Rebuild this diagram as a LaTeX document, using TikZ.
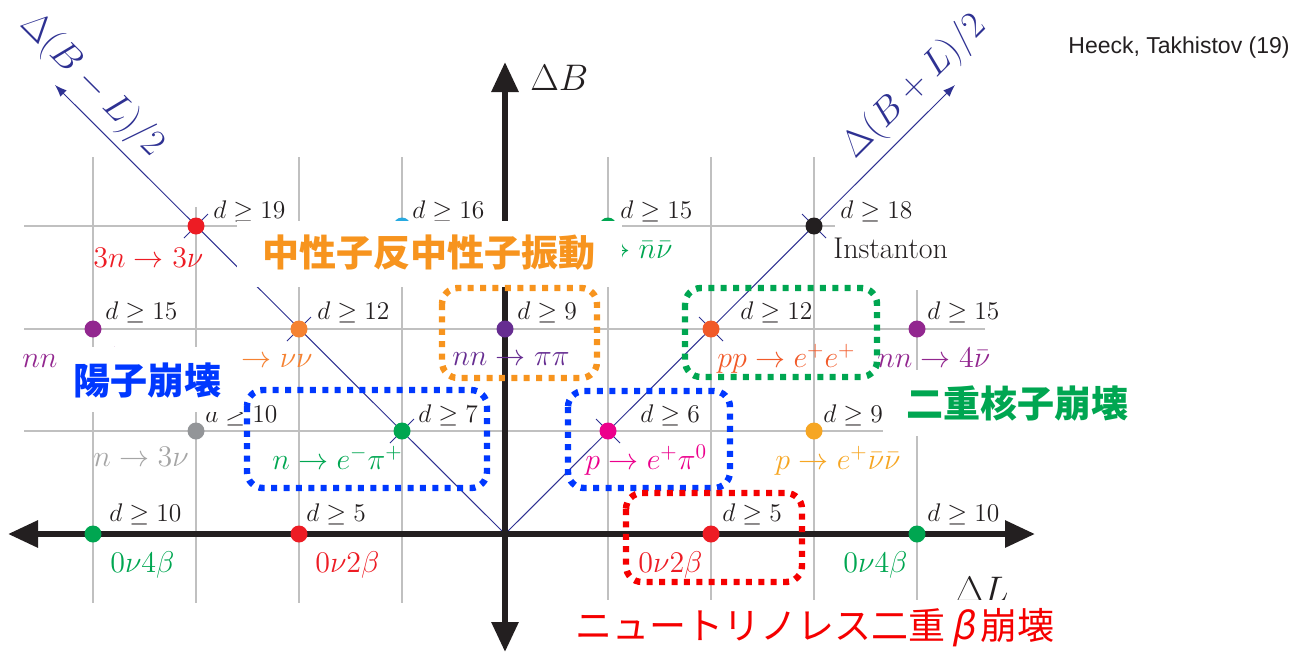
\RequirePackage{fix-cm}
\documentclass[tikz,border=0pt]{standalone}
\usepackage{fontspec}
\newfontfamily\jp{Noto Sans CJK JP}
\newfontfamily\jpsl{Noto Sans CJK JP}[FakeSlant=0.2]
\newfontfamily\heeckfont{Liberation Sans}
\usetikzlibrary{arrows.meta}
\definecolor{gridgray}{RGB}{192,192,192}
\definecolor{axisblack}{RGB}{35,31,32}
\definecolor{navy}{RGB}{46,49,146}
\definecolor{cgreen}{RGB}{0,166,81}
\definecolor{cred}{RGB}{237,28,36}
\definecolor{cgraydot}{RGB}{147,149,152}
\definecolor{cgraylab}{RGB}{165,165,165}
\definecolor{cmagenta}{RGB}{236,0,140}
\definecolor{cyellow}{RGB}{246,166,35}
\definecolor{cpurple}{RGB}{146,39,143}
\definecolor{cviolet}{RGB}{102,45,145}
\definecolor{corange}{RGB}{245,130,50}
\definecolor{corangered}{RGB}{241,90,41}
\definecolor{ccyan}{RGB}{39,170,225}
\definecolor{jorange}{RGB}{247,148,30}
\definecolor{jblue}{RGB}{0,56,255}
\definecolor{jgreen}{RGB}{0,166,81}
\definecolor{jred}{RGB}{245,0,0}
\newcommand\dsz{\fontsize{12.75}{15}\selectfont}
\newcommand\psz{\fontsize{15}{18}\selectfont}
\newcommand\bsz{\fontsize{18.5}{22}\selectfont}
\tikzset{
  gridline/.style={draw=gridgray, line width=0.75pt},
  diag/.style={draw=navy, line width=0.5pt},
  axisline/.style={draw=axisblack, line width=3pt,
    {Triangle[length=15pt,width=13pt]}-{Triangle[length=15pt,width=13pt]}},
  dot/.style={circle, inner sep=0pt, minimum size=8.5pt},
  dlab/.style={anchor=base west, inner sep=0pt, text=axisblack, font=\dsz},
  plab/.style={anchor=base west, inner sep=0pt, font=\psz},
  jplab/.style={inner sep=0pt, font=\jp\bfseries\fontsize{18.5}{22}\selectfont},
  hlbox/.style={line width=3.2pt, dash pattern=on 3pt off 3.2pt, rounded corners=8pt},
  tickmark/.style={draw=navy, line width=0.5pt},
}
\begin{document}
\begin{tikzpicture}[x=0.5pt,y=-0.5pt]
\useasboundingbox (0,0) rectangle (1300,653);
% grid
\foreach \gx/\gy in {93/157,196/207,299/157,402/157,608/157,711/157,814/157,917/290}
  \draw[gridline] (\gx,\gy) -- (\gx,603);
\draw[gridline] (24,226) -- (835,226);
\draw[gridline] (24,329) -- (985,329);
\draw[gridline] (24,431) -- (985,431);
% coordinates
\coordinate (O) at (505,534);
\coordinate (tipBL) at (55,85);
\coordinate (tipBP) at (955,85);
\coordinate (Lw) at (8,534);
\coordinate (Le) at (1035,534);
\coordinate (Bn) at (505,62);
\coordinate (Bs) at (505,652);
% diagonals
\draw[diag,-{Latex[length=6pt,width=4.5pt]}] (O) -- (tipBL);
\draw[diag,-{Latex[length=6pt,width=4.5pt]}] (O) -- (tipBP);
\foreach \gx/\gy in {402/431,299/329,196/226}
  \draw[tickmark] (\gx-12,\gy+12) -- (\gx+12,\gy-12);
\foreach \gx/\gy in {608/431,711/329,814/226}
  \draw[tickmark] (\gx-12,\gy-12) -- (\gx+12,\gy+12);
% axes
\draw[axisline] (Lw) -- (Le);
\draw[axisline] (Bs) -- (Bn);
% dots
\node[dot,fill=cgreen] (m40) at (93,534) {};
\node[dot,fill=cred] (m20) at (299,534) {};
\node[dot,fill=cred] (p20) at (711,534) {};
\node[dot,fill=cgreen] (p40) at (917,534) {};
\node[dot,fill=cgraydot] (m31) at (196,431) {};
\node[dot,fill=cgreen] (m11) at (402,431) {};
\node[dot,fill=cmagenta] (p11) at (608,431) {};
\node[dot,fill=cyellow] (p31) at (814,431) {};
\node[dot,fill=cpurple] (m42) at (93,329) {};
\node[dot,fill=corange] (m22) at (299,329) {};
\node[dot,fill=cviolet] (z02) at (505,329) {};
\node[dot,fill=corangered] (p22) at (711,329) {};
\node[dot,fill=cpurple] (p42) at (917,329) {};
\node[dot,fill=cred] (m33) at (196,226) {};
\node[dot,fill=ccyan] (m13) at (402,226) {};
\node[dot,fill=cgreen] (p13) at (608,226) {};
\node[dot,fill=axisblack] (p33) at (814,226) {};
% d labels
\node[dlab] (dm33) at (213,218) {$d\geq 19$};
\node[dlab] (dm13) at (412,218) {$d\geq 16$};
\node[dlab] (dp13) at (620,218) {$d\geq 15$};
\node[dlab] (dp33) at (840,218) {$d\geq 18$};
\node[dlab] (dm42) at (105,319) {$d\geq 15$};
\node[dlab] (dm22) at (317,319) {$d\geq 12$};
\node[dlab] (dz02) at (517,319) {$d\geq 9$};
\node[dlab] (dp22) at (740,319) {$d\geq 12$};
\node[dlab] (dp42) at (927,319) {$d\geq 15$};
\node[dlab] (dm31) at (205,422) {$d\geq 10$};
\node[dlab] (dm11) at (418,422) {$d\geq 7$};
\node[dlab] (dp11) at (640,422) {$d\geq 6$};
\node[dlab] (dp31) at (823,422) {$d\geq 9$};
\node[dlab] (dm40) at (109,521) {$d\geq 10$};
\node[dlab] (dm20) at (306,521) {$d\geq 5$};
\node[dlab] (dp20) at (722,521) {$d\geq 5$};
\node[dlab] (dp40) at (927,521) {$d\geq 10$};
% process labels
\node[plab,text=cgreen] (lm40) at (110,572) {$0\nu4\beta$};
\node[plab,text=cred] (lm20) at (315,572) {$0\nu2\beta$};
\node[plab,text=cred] (lp20) at (638,572) {$0\nu2\beta$};
\node[plab,text=cgreen] (lp40) at (843,572) {$0\nu4\beta$};
\node[plab,text=cgraylab] (lm31) at (93,466) {$n\to 3\nu$};
\node[plab,text=cgreen] (lm11) at (272,469) {$n\to e^-\pi^+$};
\node[plab,text=cmagenta] (lp11) at (585,469) {$p\to e^+\pi^0$};
\node[plab,text=cyellow] (lp31) at (775,469) {$p\to e^+\bar\nu\bar\nu$};
\node[plab,text=cpurple] (lm42) at (22,367) {$nn\to 4\nu$};
\node[plab,anchor=base east,text=corange] (lm22) at (313,367) {$nn\to\nu\nu$};
\node[plab,text=cviolet] (lz02) at (452,365) {$nn\to\pi\pi$};
\node[plab,text=corangered] (lp22) at (717,367) {$pp\to e^+e^+$};
\node[plab,text=cpurple] (lp42) at (877,367) {$nn\to 4\bar\nu$};
\node[plab,text=cred] (lm33) at (93,267) {$3n\to 3\nu$};
\node[plab,anchor=base east,text=cgreen] (lp13) at (673,258) {$\to\bar n\bar\nu$};
\node[plab,text=axisblack] (lp33) at (833,258) {Instanton};
% axis labels
\node[anchor=base west,inner sep=0pt,font=\bsz,text=axisblack] (lDB) at (530,90) {$\Delta B$};
\node[anchor=base west,inner sep=0pt,font=\bsz,text=axisblack] (lDL) at (955,602) {$\Delta L$};
\node[rotate=-45,inner sep=0pt,font=\bsz,text=navy] (lBmL) at (92,85) {$\Delta(B-L)/2$};
\node[rotate=45,inner sep=0pt,font=\bsz,text=navy] (lBpL) at (915,87) {$\Delta(B+L)/2$};
\node[anchor=base west,inner sep=0pt,font=\heeckfont\fontsize{11.5}{14}\selectfont,text=axisblack] (cite) at (1068,53) {Heeck, Takhistov (19)};
% Japanese labels on white
\fill[white] (237,221) rectangle (622,287);
\node[jplab,text=jorange] (jnn) at (428.5,252.5) {中性子反中性子振動};
\fill[white] (58,347) rectangle (242,412);
\node[jplab,text=jblue] (jpd) at (147.5,381) {陽子崩壊};
\fill[white] (883,370) rectangle (1152,436);
\node[jplab,text=jgreen] (jdn) at (1017.5,404) {二重核子崩壊};
\fill[white] (553,600) rectangle (1077,653);
\node[inner sep=0pt,font=\jp\fontsize{18.5}{22}\selectfont,text=jred] (jbb) at (815,628) {ニュートリノレス二重\makebox[0.95em]{\jpsl β}崩壊};
% highlight boxes
\draw[hlbox,draw=jblue] (247,390) rectangle (487,488);
\draw[hlbox,draw=jblue] (568,391) rectangle (730,488);
\draw[hlbox,draw=jorange] (442,288) rectangle (597,378);
\draw[hlbox,draw=jgreen] (685,288) rectangle (877,377);
\draw[hlbox,draw=jred] (626,493) rectangle (802,582);
\end{tikzpicture}
\end{document}
